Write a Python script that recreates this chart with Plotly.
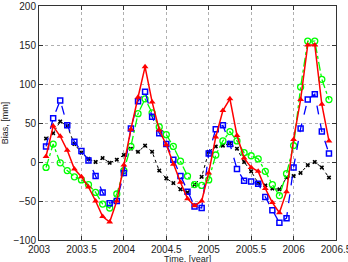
import plotly.graph_objects as go

times = [2003.083, 2003.167, 2003.25, 2003.333, 2003.417, 2003.5, 2003.583, 2003.667, 2003.75, 2003.833,
         2003.917, 2004.0, 2004.083, 2004.167, 2004.25, 2004.333, 2004.417, 2004.5, 2004.583, 2004.667,
         2004.75, 2004.833, 2004.917, 2005.0, 2005.083, 2005.167, 2005.25, 2005.333, 2005.417, 2005.5,
         2005.583, 2005.667, 2005.75, 2005.833, 2005.917, 2006.0, 2006.083, 2006.167, 2006.25, 2006.333,
         2006.417]

red_vals = [7, 46, 33, 15, -9, -19, -32, -50, -70, -77,
            -50, -4, 42, 83, 122, 77, 41, 22, -3, -26,
            -47, -56, -50, -14, 32, 66, 81, 34, 5, -7,
            -12, -34, -52, -65, -38, 29, 80, 150, 150, 74,
            27]
blue_vals = [20, 56, 79, 47, 26, 14, 2, -18, -39, -53,
             -50, -14, 43, 78, 90, 58, 37, 23, 3, -18,
             -38, -57, -59, 11, 42, 47, 23, -9, -24, -25,
             -28, -45, -62, -78, -72, -7, 43, 80, 87, 39,
             11]
green_vals = [-7, 23, -1, -11, -19, -23, -29, -39, -54, -59,
              -41, -11, 20, 62, 81, 63, 45, 35, 20, 1,
              -18, -29, -30, -23, 9, 27, 39, 27, 12, 8,
              4, -12, -29, -43, -15, 21, 96, 155, 155, 106,
              80]
black_vals = [30, 37, 52, 46, 23, 12, 4, 0, 5, -1,
              3, 9, 17, 13, 21, 13, -11, -21, -27, -35,
              -39, -29, -19, 13, 20, 21, 24, 17, 0, -12,
              -27, -30, -34, -35, -20, -18, -14, -4, 0, -7,
              -20]

x_ticks = [2003, 2003.5, 2004, 2004.5, 2005, 2005.5, 2006, 2006.5]
x_labels = ["2003", "2003.5", "2004", "2004.5", "2005", "2005.5", "2006", "2006.5"]
y_ticks = [-100, -50, 0, 50, 100, 150, 200]

fig = go.Figure()
fig.add_trace(go.Scatter(x=times, y=black_vals, mode="lines+markers",
                         line=dict(color="black", width=1, dash="dot"),
                         marker=dict(symbol="x", size=4, color="black")))
fig.add_trace(go.Scatter(x=times, y=green_vals, mode="lines+markers",
                         line=dict(color="#00ff00", width=1.3, dash="dashdot"),
                         marker=dict(symbol="circle-open", size=6, color="#00ff00",
                                     line=dict(width=1.3, color="#00ff00"))))
fig.add_trace(go.Scatter(x=times, y=blue_vals, mode="lines+markers",
                         line=dict(color="#0000ff", width=1.3, dash="dash"),
                         marker=dict(symbol="square-open", size=5, color="#0000ff",
                                     line=dict(width=1.5, color="#0000ff"))))
fig.add_trace(go.Scatter(x=times, y=red_vals, mode="lines+markers",
                         line=dict(color="#ff0000", width=1.5),
                         marker=dict(symbol="triangle-up", size=6, color="#ff0000")))

axis_common = dict(showline=True, linecolor="#333", linewidth=1, mirror="ticks",
                   ticks="inside", ticklen=4, tickcolor="#333",
                   showgrid=True, gridcolor="#b0b0b0", griddash="dot", gridwidth=1,
                   zeroline=False, ticklabeloverflow="allow", automargin=False,
                   tickfont=dict(family="Liberation Sans", size=10, color="#222"))

fig.update_xaxes(range=[2003, 2006.5], tickvals=x_ticks, ticktext=x_labels,
                 ticklabelstandoff=0, **axis_common)
fig.update_yaxes(range=[-100, 200], tickvals=y_ticks,
                 title=dict(text="Bias, [mm]", standoff=6,
                            font=dict(family="Liberation Sans", size=9, color="#222")),
                 **axis_common)

fig.add_annotation(text="Time, [year]", xref="paper", yref="paper", x=0.5, y=-0.056,
                   xanchor="center", yanchor="top", showarrow=False, borderpad=0,
                   font=dict(family="Liberation Sans", size=9, color="#222"))

fig.update_layout(width=348, height=262, showlegend=False,
                  margin=dict(l=39, r=12, t=6, b=22),
                  plot_bgcolor="white", paper_bgcolor="white")

fig.write_html("out.html")
